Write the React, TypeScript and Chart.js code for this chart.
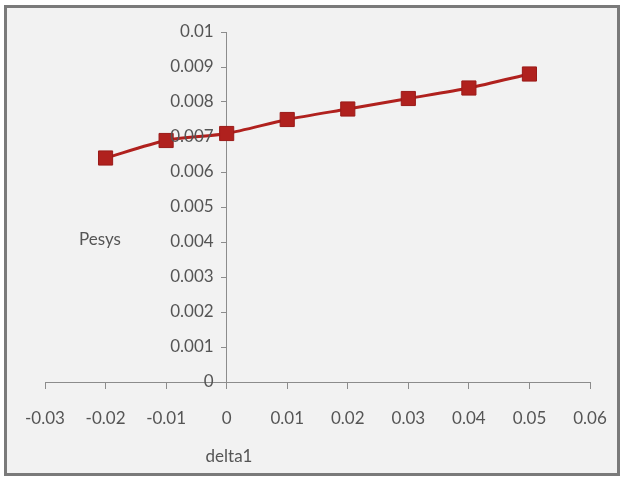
import React, { useEffect, useRef } from "react";
import { Chart, registerables } from "chart.js";

Chart.register(...registerables);

// delta1 values and the resulting Pesys
const deltaValues = [-0.02, -0.01, 0, 0.01, 0.02, 0.03, 0.04, 0.05];
const pesysValues = [0.0064, 0.0069, 0.0071, 0.0075, 0.0078, 0.0081, 0.0084, 0.0088];

// axis ticks
const xTicks = [-0.03, -0.02, -0.01, 0, 0.01, 0.02, 0.03, 0.04, 0.05, 0.06];
const yTicks = [0, 0.001, 0.002, 0.003, 0.004, 0.005, 0.006, 0.007, 0.008, 0.009, 0.01];

const xTitle = "delta1";
const yTitle = "Pesys";

const FONT = "Lato, 'Open Sans', sans-serif";
const FONT_SIZE = 17;
const TEXT = "#555555";
const AXIS = "#8c8c8c";
const LINE = "#B0211E";
const Y_LABEL_GAP = 13;

const fmt = (v: number) => String(parseFloat(Number(v).toFixed(4)));

// Labels for the y axis, which crosses the plot at x = 0: right-aligned,
// a little to the left of the axis line and its tick marks.
const yAxisLabels = {
  id: "yAxisLabels",
  afterDraw(chart: any) {
    const { ctx } = chart;
    const xs = chart.scales.x;
    const ys = chart.scales.y;
    const axisX = xs.getPixelForValue(0);
    ctx.save();
    ctx.fillStyle = TEXT;
    ctx.font = `${FONT_SIZE}px ${FONT}`;
    ctx.textAlign = "right";
    ctx.textBaseline = "middle";
    yTicks.forEach((v) => {
      ctx.fillText(fmt(v), axisX - Y_LABEL_GAP, ys.getPixelForValue(v));
    });
    ctx.restore();
  },
};

// Axis titles placed relative to the plot area
const axisTitles = {
  id: "axisTitles",
  afterDraw(chart: any) {
    const { ctx, chartArea } = chart;
    ctx.save();
    ctx.fillStyle = TEXT;
    ctx.font = `${FONT_SIZE}px ${FONT}`;
    ctx.textAlign = "center";
    ctx.textBaseline = "middle";
    ctx.fillText(xTitle, chartArea.left + 184, chartArea.bottom + 75);
    ctx.fillText(yTitle, chartArea.left + 55, chartArea.top + 208);
    ctx.restore();
  },
};

export default function App() {
  const ref = useRef<HTMLCanvasElement | null>(null);

  useEffect(() => {
    if (!ref.current) return;
    const chart = new Chart(ref.current, {
      type: "scatter",
      data: {
        datasets: [
          {
            data: deltaValues.map((x, i) => ({ x, y: pesysValues[i] })),
            showLine: true,
            borderColor: LINE,
            backgroundColor: LINE,
            borderWidth: 3,
            tension: 0.25,
            pointStyle: "rect",
            pointRadius: 10,
            pointBorderColor: "#9a1a18",
            pointBorderWidth: 1,
            pointBackgroundColor: LINE,
          },
        ],
      },
      options: {
        animation: false,
        responsive: false,
        layout: { padding: { left: 45, right: 32, top: 32, bottom: 95 } },
        plugins: { legend: { display: false }, tooltip: { enabled: false } },
        scales: {
          x: {
            type: "linear",
            position: { y: 0 } as any,
            min: -0.03,
            max: 0.06,
            afterBuildTicks: (s: any) => {
              s.ticks = xTicks.map((value) => ({ value }));
            },
            afterFit: (s: any) => {
              s.paddingLeft = 0;
              s.paddingRight = 0;
            },
            grid: { drawOnChartArea: false, color: AXIS, tickLength: 6, tickWidth: 1 },
            border: { color: AXIS, width: 1 },
            ticks: {
              color: TEXT,
              font: { family: FONT, size: FONT_SIZE },
              padding: 20,
              maxRotation: 0,
              autoSkip: false,
              callback: (v: any) => fmt(v),
            },
          },
          y: {
            type: "linear",
            position: { x: 0 } as any,
            min: 0,
            max: 0.01,
            afterBuildTicks: (s: any) => {
              s.ticks = yTicks.map((value) => ({ value }));
            },
            afterFit: (s: any) => {
              s.paddingTop = 0;
              s.paddingBottom = 0;
            },
            grid: { drawOnChartArea: false, color: AXIS, tickLength: 5, tickWidth: 1 },
            border: { color: AXIS, width: 1 },
            ticks: { display: false },
          },
        },
      },
      plugins: [yAxisLabels, axisTitles],
    });
    return () => chart.destroy();
  }, []);

  return (
    <div style={{ position: "fixed", left: 0, top: 0, width: 622, height: 477, background: "#ffffff" }}>
      <div
        style={{
          position: "absolute",
          left: 4,
          top: 5,
          width: 610,
          height: 465,
          border: "3px solid #7a7a7a",
          background: "#f2f2f2",
        }}
      />
      <canvas ref={ref} width={622} height={477} style={{ position: "absolute", left: 0, top: 0 }} />
    </div>
  );
}
